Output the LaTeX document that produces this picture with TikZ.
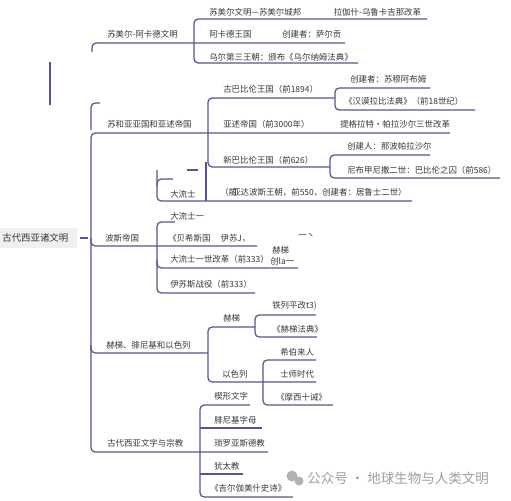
\documentclass[tikz,border=0pt]{standalone}
\usepackage{fontspec}
\newfontfamily\cjk{Noto Sans CJK SC}
\usetikzlibrary{positioning}
\definecolor{mapline}{RGB}{88,86,140}
\definecolor{txt}{RGB}{55,55,55}

\begin{document}
\begin{tikzpicture}[
    x=0.025cm, y=-0.025cm,
    node distance=6mm and 5mm,
    link/.style = {draw=mapline, line width=0.9pt, rounded corners=3pt},
    item/.style = {anchor=west, inner sep=0pt, text=txt, font=\cjk\fontsize{6}{7}\selectfont},
    rootbox/.style = {anchor=west, fill=black!6, inner xsep=1.5pt, inner ysep=4pt, text width=1.8cm, align=left, text=txt, font=\cjk\fontsize{6.7}{8}\selectfont},
    wmark/.style = {anchor=west, inner sep=0pt, text=black!38, font=\cjk\fontsize{9.6}{11}\selectfont}]

    \useasboundingbox (0,0) rectangle (511,500);

    % root and trunk
    \node[rootbox] (root) at (0,238) {古代西亚诸文明};
    \draw[link] (80,238) -- (88,238);
    \draw[link] (50,62) -- (50,105);
    \draw[link] (92,52) -- (92,43) -- (345,43);
    \draw[link] (100,103) -- (91,103) -- (91,130);
    \draw[link] (450,133) -- (91,133) -- (91,452) -- (268,452);
    \draw[link] (91,238) -- (91,246) -- (257,246);
    \draw[link] (91,345) -- (91,353) -- (208,353);

    % Sumer and Akkad
    \node[item] (sumer) at (107,34) {苏美尔-阿卡德文明};
    \draw[link] (427,19) -- (194,19) -- (194,63) -- (358,63);
    \node[item] (citystate) at (209,12) {苏美尔文明—苏美尔城邦};
    \node[item, right=0.8cm of citystate] (reform) {拉伽什-乌鲁卡吉那改革};
    \node[item] (akkad) at (209,34) {阿卡德王国};
    \node[item] (sargon) at (282,34) {创建者：萨尔贡};
    \node[item] (ur) at (209,57) {乌尔第三王朝：颁布《乌尔纳姆法典》};

    % Babylon and Assyria
    \node[item] (babas) at (107,124) {苏和亚亚国和亚述帝国};
    \draw[link] (335,98) -- (208,98) -- (208,167) -- (330,167);
    \node[item] (oldbab) at (223,89) {古巴比伦王国（前1894）};
    \draw[link] (430,88) -- (335,88) -- (335,110) -- (475,110);
    \node[item] (sumu) at (350,79) {创建者：苏穆阿布姆};
    \node[item] (hamcode) at (344,101) {《汉谟拉比法典》（前18世纪）};
    \node[item] (assyria) at (223,124) {亚述帝国（前3000年）};
    \node[item] (tiglath) at (340,124) {提格拉特•帕拉沙尔三世改革};
    \node[item] (newbab) at (223,160) {新巴比伦王国（前626）};
    \draw[link] (430,155) -- (330,155) -- (330,178) -- (500,178);
    \node[item] (nabo) at (347,146) {创建人：那波帕拉沙尔};
    \node[item] (nebu) at (347,170) {尼布甲尼撒二世：巴比伦之囚（前586）};

    % Persia
    \node[item] (persia) at (105,238) {波斯帝国};
    \draw[link] (187,170) -- (198,170);
    \draw[link] (157,170) -- (157,201) -- (412,201);
    \draw[link] (173,179) -- (157,179) -- (157,186);
    \draw[link] (206,162) -- (206,201);
    \node[item] (achfront) at (220,192) {（前};
    \node[item] (ach) at (232,192) {亚达波斯王朝，前550，创建者：居鲁士二世）};
    \node[item] (darius) at (170,194) {大流士};
    \draw[link] (175,222) -- (157,222) -- (157,293) -- (255,293);
    \draw[link] (157,260) -- (157,268) -- (298,268);
    \node[item] (dariusone) at (170,216) {大流士一};
    \node[item] (behis) at (168,238) {《贝希斯国\hspace{1.2em}伊苏J，};
    \node[item] (stray) at (298,236) {一丶};
    \node[item] (dreform) at (170,259) {大流士一世改革（前333）};
    \node[item] (hitA) at (272,250) {赫梯};
    \node[item] (hitB) at (270,261) {创la一};
    \node[item] (issus) at (170,284) {伊苏斯战役（前333）};

    % Hittites, Phoenicia and Israel
    \node[item] (hpi) at (106,345) {赫梯、腓尼基和以色列};
    \draw[link] (255,327) -- (208,327) -- (208,382) -- (316,382);
    \node[item] (hittite) at (223,318) {赫梯};
    \draw[link] (316,315) -- (255,315) -- (255,337) -- (317,337);
    \node[item] (telipinu) at (272,306) {铁列平改t3)};
    \node[item] (hitcode) at (272,329) {《赫梯法典》};
    \node[item] (israel) at (222,374) {以色列};
    \draw[link] (316,360) -- (263,360) -- (263,405) -- (333,405);
    \node[item] (hebrew) at (280,352) {希伯来人};
    \node[item] (judges) at (280,374) {士师时代};
    \node[item] (moses) at (276,397) {《摩西十诫》};

    % writing and religion
    \node[item] (writing) at (107,443) {古代西亚文字与宗教};
    \draw[link] (250,405) -- (200,405) -- (200,497) -- (293,497);
    \draw[link] (200,428) -- (262,428);
    \draw[link] (200,474) -- (243,474);
    \node[item] (cunei) at (214,396) {楔形文字};
    \node[item] (phoen) at (214,420) {腓尼基字母};
    \node[item] (zoro) at (214,443) {琐罗亚斯德教};
    \node[item] (judaism) at (214,466) {犹太教};
    \node[item] (gilga) at (210,488) {《吉尔伽美什史诗》};

    % watermark
    \fill[black!30] (292,476) circle (5.5);
    \fill[black!30] (299,481) circle (4.5);
    \node[wmark] (wm) at (307,478) {公众号 · 地球生物与人类文明};
\end{tikzpicture}
\end{document}
